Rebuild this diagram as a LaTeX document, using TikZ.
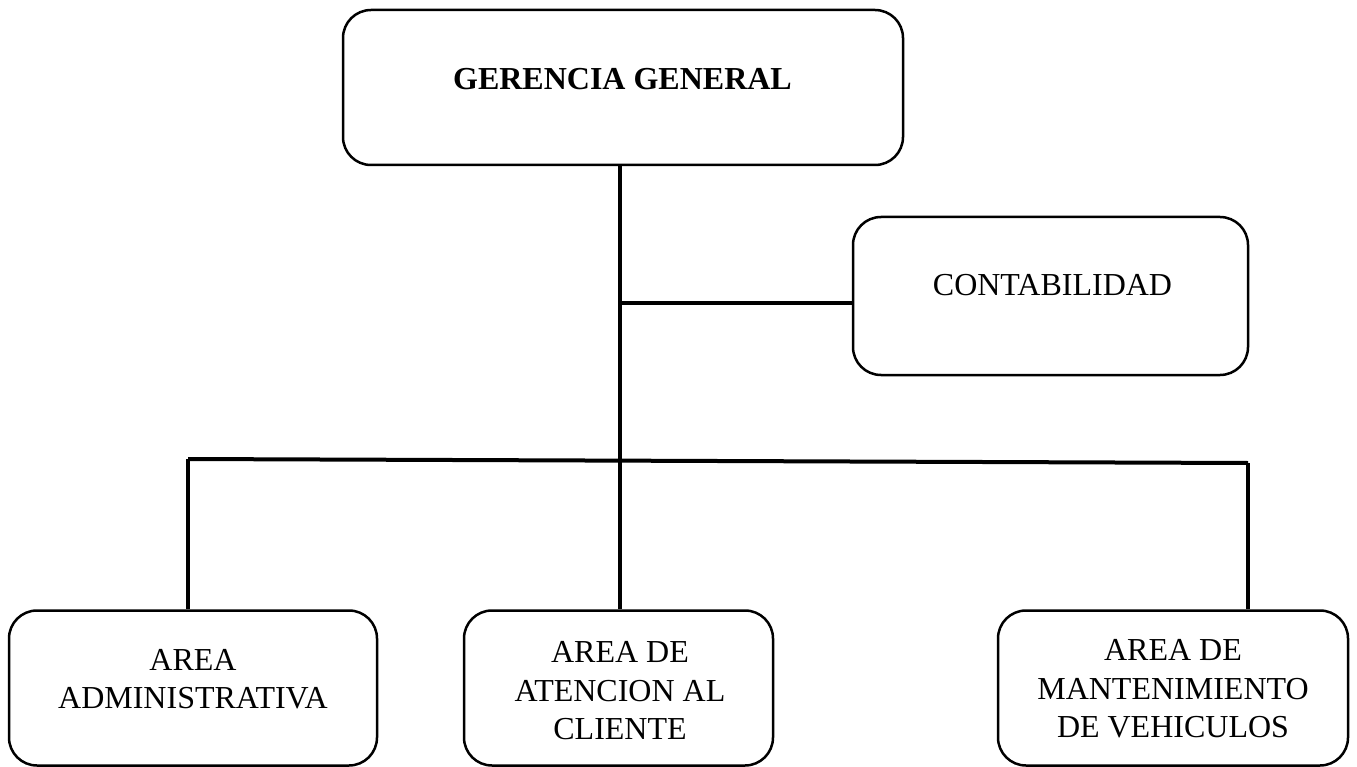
\documentclass[tikz,border=0pt]{standalone}
\usepackage{fontspec}
\setmainfont{Liberation Serif}
\begin{document}
\begin{tikzpicture}[x=1pt,y=-1pt,
  boxst/.style={draw=black,line width=2.5pt,rounded corners=28pt,inner sep=0pt},
  conn/.style={draw=black,line width=4pt},
  lbl/.style={inner sep=0pt,align=center,font=\fontsize{32}{38.5}\selectfont}]
\useasboundingbox (0,0) rectangle (1357,767);
% boxes
\node[boxst,minimum width=560pt,minimum height=155pt] (gg) at (623,87.5) {};
\node[boxst,minimum width=395pt,minimum height=158pt] (cont) at (1050.5,296) {};
\node[boxst,minimum width=368pt,minimum height=155pt] (adm) at (193,688) {};
\node[boxst,minimum width=309pt,minimum height=155pt] (aten) at (618.5,688) {};
\node[boxst,minimum width=350pt,minimum height=155pt] (mant) at (1173,688) {};
% texts
\node[lbl,font=\fontsize{32}{38.5}\selectfont\bfseries] (ggt) at (622.5,79) {GERENCIA GENERAL};
\node[lbl] (contt) at (1052.5,285) {CONTABILIDAD};
\node[lbl] (admt) at (193,679) {AREA\\ADMINISTRATIVA};
\node[lbl] (atent) at (620,691) {AREA DE\\ATENCION AL\\CLIENTE};
\node[lbl] (mantt) at (1173,689) {AREA DE\\MANTENIMIENTO\\DE VEHICULOS};
% junction points
\coordinate (busL) at (188,459);
\coordinate (busM) at (620,460.6);
\coordinate (busR) at (1248,463);
\coordinate (cj) at (620,303);
% connectors
\draw[conn] (gg.south -| busM) -- (busM);
\draw[conn] (cj) -- (cj -| cont.west);
\draw[conn] (busL) -- (busR);
\draw[conn] (busL) -- (busL |- adm.north);
\draw[conn] (busM) -- (busM |- aten.north);
\draw[conn] (busR) -- (busR |- mant.north);
\end{tikzpicture}
\end{document}
